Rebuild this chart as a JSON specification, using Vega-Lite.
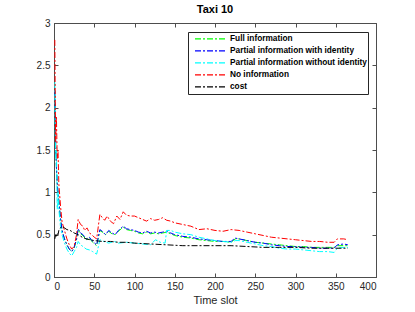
{
  "$schema": "https://vega.github.io/schema/vega-lite/v6.json",
  "width": 322,
  "height": 254,
  "autosize": "none",
  "padding": {"left": 54, "top": 23, "right": 39, "bottom": 35},
  "background": "white",
  "config": {
    "font": "Liberation Sans",
    "view": {"stroke": "#4d4d4d", "strokeWidth": 1},
    "axis": {"grid": false, "domainColor": "#4d4d4d", "tickColor": "#4d4d4d", "labelColor": "#262626", "labelFontSize": 10, "tickSize": -4, "labelPadding": 8, "titleColor": "#262626", "titleFontWeight": "normal", "titleFontSize": 11}
  },
  "title": {"text": "Taxi 10", "fontSize": 11, "fontWeight": "bold", "color": "#000000", "offset": 3, "font": "Liberation Sans"},
  "data": {"values": [
    {"s":"Full information","t":1,"v":2.2},{"s":"Full information","t":2,"v":1.6},{"s":"Full information","t":3,"v":1.3},{"s":"Full information","t":4,"v":1.1},{"s":"Full information","t":6,"v":0.9},{"s":"Full information","t":8,"v":0.7},{"s":"Full information","t":10,"v":0.55},{"s":"Full information","t":13,"v":0.45},{"s":"Full information","t":16,"v":0.38},{"s":"Full information","t":19,"v":0.33},{"s":"Full information","t":22,"v":0.3},{"s":"Full information","t":25,"v":0.34},{"s":"Full information","t":28,"v":0.44},{"s":"Full information","t":30,"v":0.56},{"s":"Full information","t":33,"v":0.51},{"s":"Full information","t":36,"v":0.49},{"s":"Full information","t":40,"v":0.44},{"s":"Full information","t":44,"v":0.46},{"s":"Full information","t":48,"v":0.41},{"s":"Full information","t":53,"v":0.37},{"s":"Full information","t":57,"v":0.55},{"s":"Full information","t":60,"v":0.53},{"s":"Full information","t":64,"v":0.5},{"s":"Full information","t":68,"v":0.54},{"s":"Full information","t":72,"v":0.51},{"s":"Full information","t":76,"v":0.5},{"s":"Full information","t":80,"v":0.54},{"s":"Full information","t":86,"v":0.59},{"s":"Full information","t":90,"v":0.56},{"s":"Full information","t":95,"v":0.55},{"s":"Full information","t":100,"v":0.54},{"s":"Full information","t":105,"v":0.52},{"s":"Full information","t":110,"v":0.51},{"s":"Full information","t":115,"v":0.53},{"s":"Full information","t":120,"v":0.51},{"s":"Full information","t":125,"v":0.52},{"s":"Full information","t":130,"v":0.51},{"s":"Full information","t":135,"v":0.52},{"s":"Full information","t":140,"v":0.53},{"s":"Full information","t":145,"v":0.51},{"s":"Full information","t":150,"v":0.49},{"s":"Full information","t":160,"v":0.47},{"s":"Full information","t":170,"v":0.46},{"s":"Full information","t":180,"v":0.44},{"s":"Full information","t":190,"v":0.43},{"s":"Full information","t":200,"v":0.42},{"s":"Full information","t":210,"v":0.42},{"s":"Full information","t":220,"v":0.41},{"s":"Full information","t":225,"v":0.45},{"s":"Full information","t":230,"v":0.45},{"s":"Full information","t":240,"v":0.43},{"s":"Full information","t":250,"v":0.41},{"s":"Full information","t":260,"v":0.4},{"s":"Full information","t":270,"v":0.39},{"s":"Full information","t":280,"v":0.38},{"s":"Full information","t":290,"v":0.37},{"s":"Full information","t":300,"v":0.36},{"s":"Full information","t":310,"v":0.36},{"s":"Full information","t":320,"v":0.35},{"s":"Full information","t":330,"v":0.35},{"s":"Full information","t":340,"v":0.35},{"s":"Full information","t":348,"v":0.35},{"s":"Full information","t":352,"v":0.37},{"s":"Full information","t":360,"v":0.37},{"s":"Full information","t":365,"v":0.37},

    {"s":"Partial information with identity","t":1,"v":2.2},{"s":"Partial information with identity","t":2,"v":1.6},{"s":"Partial information with identity","t":3,"v":1.3},{"s":"Partial information with identity","t":4,"v":1.1},{"s":"Partial information with identity","t":6,"v":0.9},{"s":"Partial information with identity","t":8,"v":0.7},{"s":"Partial information with identity","t":10,"v":0.55},{"s":"Partial information with identity","t":13,"v":0.45},{"s":"Partial information with identity","t":16,"v":0.38},{"s":"Partial information with identity","t":19,"v":0.33},{"s":"Partial information with identity","t":22,"v":0.3},{"s":"Partial information with identity","t":25,"v":0.35},{"s":"Partial information with identity","t":28,"v":0.45},{"s":"Partial information with identity","t":30,"v":0.57},{"s":"Partial information with identity","t":33,"v":0.52},{"s":"Partial information with identity","t":36,"v":0.5},{"s":"Partial information with identity","t":40,"v":0.45},{"s":"Partial information with identity","t":44,"v":0.47},{"s":"Partial information with identity","t":48,"v":0.42},{"s":"Partial information with identity","t":53,"v":0.38},{"s":"Partial information with identity","t":57,"v":0.56},{"s":"Partial information with identity","t":60,"v":0.54},{"s":"Partial information with identity","t":64,"v":0.5},{"s":"Partial information with identity","t":68,"v":0.55},{"s":"Partial information with identity","t":72,"v":0.52},{"s":"Partial information with identity","t":76,"v":0.5},{"s":"Partial information with identity","t":80,"v":0.55},{"s":"Partial information with identity","t":86,"v":0.6},{"s":"Partial information with identity","t":90,"v":0.57},{"s":"Partial information with identity","t":95,"v":0.56},{"s":"Partial information with identity","t":100,"v":0.55},{"s":"Partial information with identity","t":105,"v":0.53},{"s":"Partial information with identity","t":110,"v":0.52},{"s":"Partial information with identity","t":115,"v":0.54},{"s":"Partial information with identity","t":120,"v":0.52},{"s":"Partial information with identity","t":125,"v":0.53},{"s":"Partial information with identity","t":130,"v":0.52},{"s":"Partial information with identity","t":135,"v":0.53},{"s":"Partial information with identity","t":140,"v":0.54},{"s":"Partial information with identity","t":145,"v":0.52},{"s":"Partial information with identity","t":150,"v":0.5},{"s":"Partial information with identity","t":160,"v":0.48},{"s":"Partial information with identity","t":170,"v":0.47},{"s":"Partial information with identity","t":180,"v":0.45},{"s":"Partial information with identity","t":190,"v":0.44},{"s":"Partial information with identity","t":200,"v":0.43},{"s":"Partial information with identity","t":210,"v":0.42},{"s":"Partial information with identity","t":220,"v":0.42},{"s":"Partial information with identity","t":225,"v":0.46},{"s":"Partial information with identity","t":230,"v":0.45},{"s":"Partial information with identity","t":240,"v":0.43},{"s":"Partial information with identity","t":250,"v":0.41},{"s":"Partial information with identity","t":260,"v":0.4},{"s":"Partial information with identity","t":270,"v":0.38},{"s":"Partial information with identity","t":280,"v":0.37},{"s":"Partial information with identity","t":290,"v":0.36},{"s":"Partial information with identity","t":300,"v":0.36},{"s":"Partial information with identity","t":310,"v":0.35},{"s":"Partial information with identity","t":320,"v":0.35},{"s":"Partial information with identity","t":330,"v":0.34},{"s":"Partial information with identity","t":340,"v":0.34},{"s":"Partial information with identity","t":348,"v":0.34},{"s":"Partial information with identity","t":352,"v":0.38},{"s":"Partial information with identity","t":360,"v":0.39},{"s":"Partial information with identity","t":365,"v":0.38},

    {"s":"Partial information without identity","t":1,"v":2.3},{"s":"Partial information without identity","t":2,"v":1.4},{"s":"Partial information without identity","t":3,"v":1.5},{"s":"Partial information without identity","t":4,"v":0.8},{"s":"Partial information without identity","t":5,"v":1.0},{"s":"Partial information without identity","t":6,"v":0.8},{"s":"Partial information without identity","t":8,"v":0.6},{"s":"Partial information without identity","t":10,"v":0.5},{"s":"Partial information without identity","t":13,"v":0.4},{"s":"Partial information without identity","t":16,"v":0.33},{"s":"Partial information without identity","t":19,"v":0.28},{"s":"Partial information without identity","t":22,"v":0.25},{"s":"Partial information without identity","t":25,"v":0.3},{"s":"Partial information without identity","t":28,"v":0.35},{"s":"Partial information without identity","t":30,"v":0.42},{"s":"Partial information without identity","t":33,"v":0.38},{"s":"Partial information without identity","t":36,"v":0.36},{"s":"Partial information without identity","t":40,"v":0.33},{"s":"Partial information without identity","t":44,"v":0.32},{"s":"Partial information without identity","t":48,"v":0.3},{"s":"Partial information without identity","t":53,"v":0.27},{"s":"Partial information without identity","t":57,"v":0.44},{"s":"Partial information without identity","t":62,"v":0.42},{"s":"Partial information without identity","t":68,"v":0.4},{"s":"Partial information without identity","t":75,"v":0.42},{"s":"Partial information without identity","t":80,"v":0.4},{"s":"Partial information without identity","t":90,"v":0.41},{"s":"Partial information without identity","t":100,"v":0.4},{"s":"Partial information without identity","t":110,"v":0.39},{"s":"Partial information without identity","t":120,"v":0.38},{"s":"Partial information without identity","t":126,"v":0.44},{"s":"Partial information without identity","t":132,"v":0.41},{"s":"Partial information without identity","t":138,"v":0.4},{"s":"Partial information without identity","t":140,"v":0.55},{"s":"Partial information without identity","t":145,"v":0.55},{"s":"Partial information without identity","t":150,"v":0.53},{"s":"Partial information without identity","t":160,"v":0.51},{"s":"Partial information without identity","t":170,"v":0.5},{"s":"Partial information without identity","t":180,"v":0.47},{"s":"Partial information without identity","t":190,"v":0.45},{"s":"Partial information without identity","t":200,"v":0.43},{"s":"Partial information without identity","t":210,"v":0.42},{"s":"Partial information without identity","t":220,"v":0.41},{"s":"Partial information without identity","t":225,"v":0.43},{"s":"Partial information without identity","t":230,"v":0.43},{"s":"Partial information without identity","t":240,"v":0.41},{"s":"Partial information without identity","t":250,"v":0.39},{"s":"Partial information without identity","t":260,"v":0.37},{"s":"Partial information without identity","t":270,"v":0.36},{"s":"Partial information without identity","t":280,"v":0.34},{"s":"Partial information without identity","t":290,"v":0.33},{"s":"Partial information without identity","t":300,"v":0.33},{"s":"Partial information without identity","t":310,"v":0.32},{"s":"Partial information without identity","t":320,"v":0.31},{"s":"Partial information without identity","t":330,"v":0.3},{"s":"Partial information without identity","t":340,"v":0.3},{"s":"Partial information without identity","t":348,"v":0.29},{"s":"Partial information without identity","t":352,"v":0.34},{"s":"Partial information without identity","t":360,"v":0.35},{"s":"Partial information without identity","t":365,"v":0.35},

    {"s":"No information","t":1,"v":2.8},{"s":"No information","t":2,"v":1.6},{"s":"No information","t":3,"v":1.9},{"s":"No information","t":4,"v":1.4},{"s":"No information","t":5,"v":1.5},{"s":"No information","t":6,"v":1.1},{"s":"No information","t":8,"v":0.85},{"s":"No information","t":10,"v":0.65},{"s":"No information","t":13,"v":0.55},{"s":"No information","t":16,"v":0.45},{"s":"No information","t":19,"v":0.38},{"s":"No information","t":22,"v":0.33},{"s":"No information","t":25,"v":0.36},{"s":"No information","t":28,"v":0.5},{"s":"No information","t":30,"v":0.68},{"s":"No information","t":33,"v":0.62},{"s":"No information","t":36,"v":0.6},{"s":"No information","t":38,"v":0.55},{"s":"No information","t":41,"v":0.58},{"s":"No information","t":44,"v":0.52},{"s":"No information","t":47,"v":0.5},{"s":"No information","t":50,"v":0.47},{"s":"No information","t":53,"v":0.45},{"s":"No information","t":57,"v":0.74},{"s":"No information","t":60,"v":0.7},{"s":"No information","t":63,"v":0.67},{"s":"No information","t":66,"v":0.72},{"s":"No information","t":70,"v":0.66},{"s":"No information","t":74,"v":0.63},{"s":"No information","t":78,"v":0.72},{"s":"No information","t":82,"v":0.68},{"s":"No information","t":86,"v":0.77},{"s":"No information","t":90,"v":0.73},{"s":"No information","t":95,"v":0.72},{"s":"No information","t":100,"v":0.72},{"s":"No information","t":105,"v":0.7},{"s":"No information","t":110,"v":0.68},{"s":"No information","t":115,"v":0.66},{"s":"No information","t":120,"v":0.69},{"s":"No information","t":125,"v":0.67},{"s":"No information","t":130,"v":0.68},{"s":"No information","t":135,"v":0.7},{"s":"No information","t":140,"v":0.67},{"s":"No information","t":145,"v":0.66},{"s":"No information","t":150,"v":0.64},{"s":"No information","t":160,"v":0.62},{"s":"No information","t":170,"v":0.6},{"s":"No information","t":180,"v":0.56},{"s":"No information","t":190,"v":0.57},{"s":"No information","t":200,"v":0.55},{"s":"No information","t":210,"v":0.54},{"s":"No information","t":220,"v":0.56},{"s":"No information","t":230,"v":0.55},{"s":"No information","t":240,"v":0.53},{"s":"No information","t":250,"v":0.51},{"s":"No information","t":260,"v":0.49},{"s":"No information","t":270,"v":0.47},{"s":"No information","t":280,"v":0.46},{"s":"No information","t":290,"v":0.45},{"s":"No information","t":300,"v":0.44},{"s":"No information","t":310,"v":0.43},{"s":"No information","t":320,"v":0.42},{"s":"No information","t":330,"v":0.42},{"s":"No information","t":340,"v":0.41},{"s":"No information","t":348,"v":0.41},{"s":"No information","t":352,"v":0.45},{"s":"No information","t":360,"v":0.45},{"s":"No information","t":365,"v":0.44},

    {"s":"cost","t":1,"v":0.45},{"s":"cost","t":2,"v":0.5},{"s":"cost","t":3,"v":0.47},{"s":"cost","t":4,"v":0.52},{"s":"cost","t":5,"v":0.5},{"s":"cost","t":6,"v":0.55},{"s":"cost","t":8,"v":0.58},{"s":"cost","t":10,"v":0.6},{"s":"cost","t":13,"v":0.58},{"s":"cost","t":16,"v":0.56},{"s":"cost","t":20,"v":0.55},{"s":"cost","t":25,"v":0.52},{"s":"cost","t":30,"v":0.5},{"s":"cost","t":35,"v":0.47},{"s":"cost","t":40,"v":0.45},{"s":"cost","t":45,"v":0.44},{"s":"cost","t":50,"v":0.43},{"s":"cost","t":60,"v":0.42},{"s":"cost","t":70,"v":0.42},{"s":"cost","t":80,"v":0.41},{"s":"cost","t":90,"v":0.41},{"s":"cost","t":100,"v":0.4},{"s":"cost","t":120,"v":0.39},{"s":"cost","t":140,"v":0.38},{"s":"cost","t":160,"v":0.37},{"s":"cost","t":180,"v":0.37},{"s":"cost","t":200,"v":0.37},{"s":"cost","t":220,"v":0.37},{"s":"cost","t":240,"v":0.36},{"s":"cost","t":260,"v":0.35},{"s":"cost","t":280,"v":0.35},{"s":"cost","t":300,"v":0.35},{"s":"cost","t":320,"v":0.34},{"s":"cost","t":340,"v":0.34},{"s":"cost","t":365,"v":0.34}
  ]},
  "layer": [
    {
      "mark": {"type": "line", "strokeWidth": 1, "strokeDash": [6, 2, 2, 2]},
      "encoding": {
        "x": {"field": "t", "type": "quantitative", "scale": {"domain": [0, 400], "nice": false}, "axis": {"title": "Time slot", "values": [0,50,100,150,200,250,300,350,400], "titlePadding": 3}},
        "y": {"field": "v", "type": "quantitative", "scale": {"domain": [0, 3], "nice": false}, "axis": {"title": null, "values": [0,0.5,1,1.5,2,2.5,3], "format": "~g"}},
        "color": {"field": "s", "type": "nominal",
          "scale": {"domain": ["Full information","Partial information with identity","Partial information without identity","No information","cost"], "range": ["#00ff00","#0000ff","#00ffff","#ff0000","#000000"]},
          "legend": {"title": null, "orient": "none", "legendX": 134, "legendY": 9, "symbolType": "stroke", "symbolSize": 900, "symbolStrokeWidth": 1.2, "symbolDash": [6, 2, 2, 2], "clipHeight": 11.8, "labelFontSize": 8.3, "labelFontWeight": "bold", "labelColor": "#000000", "strokeColor": "#262626", "fillColor": "white", "padding": 1, "rowPadding": 0, "labelOffset": 4, "symbolOffset": 5}
        },
        "detail": {"field": "s"}
      }
    },
    {
      "mark": {"type": "point", "opacity": 0},
      "encoding": {
        "x": {"field": "t", "type": "quantitative", "scale": {"domain": [0, 400], "nice": false}, "axis": {"orient": "top", "title": null, "labels": false, "domain": false, "values": [0,50,100,150,200,250,300,350,400]}},
        "y": {"field": "v", "type": "quantitative", "scale": {"domain": [0, 3], "nice": false}, "axis": {"orient": "right", "title": null, "labels": false, "domain": false, "values": [0,0.5,1,1.5,2,2.5,3]}}
      }
    }
  ],
  "resolve": {"axis": {"x": "independent", "y": "independent"}}
}
